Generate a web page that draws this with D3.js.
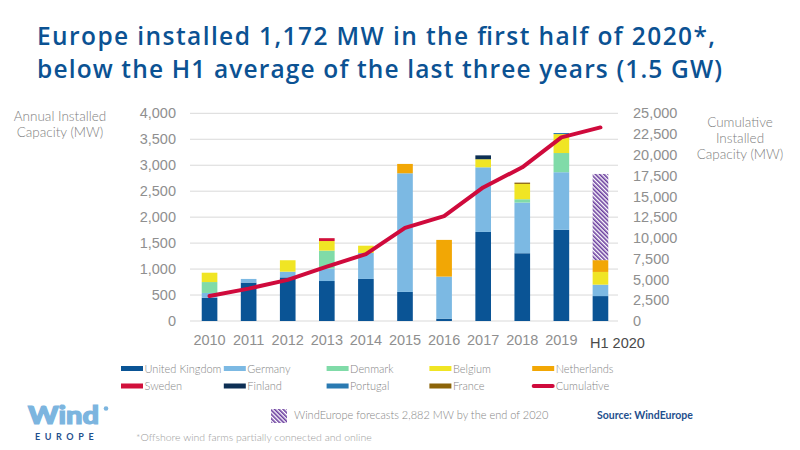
<!DOCTYPE html>
<html>
<head>
<meta charset="utf-8">
<script src="https://cdn.jsdelivr.net/npm/d3@7"></script>
<style>
  body { margin: 0; background: #fff; }
  svg { font-family: Lato, "Open Sans", sans-serif; }
</style>
</head>
<body>
<div id="canvas"></div>
<script>
// values (MW)
var years = ["2010", "2011", "2012", "2013", "2014", "2015", "2016", "2017", "2018", "2019", "H1 2020"];
var unitedKingdom = [445, 740, 840, 770, 810, 560, 45, 1715, 1305, 1755, 480];
var germany =       [95, 70, 110, 240, 500, 2285, 810, 1245, 975, 1110, 220];
var denmark =       [210, 0, 0, 345, 0, 0, 0, 0, 65, 370, 0];
var belgium =       [180, 0, 220, 185, 140, 0, 0, 155, 295, 365, 245];
var netherlands =   [0, 0, 0, 0, 0, 180, 707, 0, 0, 0, 227];
var sweden =        [0, 0, 0, 55, 0, 0, 0, 0, 0, 0, 0];
var finland =       [0, 0, 0, 0, 0, 0, 0, 75, 0, 0, 0];
var portugal =      [0, 0, 0, 0, 0, 0, 0, 0, 0, 20, 0];
var france =        [0, 0, 0, 0, 0, 0, 0, 0, 25, 0, 0];
var forecast =      [0, 0, 0, 0, 0, 0, 0, 0, 0, 0, 1660];
var cumulative =    [3000, 3900, 4950, 6550, 8050, 11200, 12630, 16080, 18500, 22100, 23300];
var leftTicks = [0, 500, 1000, 1500, 2000, 2500, 3000, 3500, 4000];
var rightTicks = [0, 2500, 5000, 7500, 10000, 12500, 15000, 17500, 20000, 22500, 25000];

var series = [
  {name: "United Kingdom", values: unitedKingdom, color: "#0a5495"},
  {name: "Germany", values: germany, color: "#7cb9e3"},
  {name: "Denmark", values: denmark, color: "#80dba8"},
  {name: "Belgium", values: belgium, color: "#f0e524"},
  {name: "Netherlands", values: netherlands, color: "#f2a705"},
  {name: "Sweden", values: sweden, color: "#d1103b"},
  {name: "Finland", values: finland, color: "#0d2f54"},
  {name: "Portugal", values: portugal, color: "#2a7ab2"},
  {name: "France", values: france, color: "#8c6409"},
  {name: "Forecast", values: forecast, color: "url(#hatch)"}
];

var W = 800, H = 450;
var svg = d3.select("#canvas").append("svg")
    .attr("width", W)
    .attr("height", H);

var defs = svg.append("defs");
var pat = defs.append("pattern")
    .attr("id", "hatch")
    .attr("patternUnits", "userSpaceOnUse")
    .attr("width", 3).attr("height", 3)
    .attr("patternTransform", "rotate(-45)");
pat.append("rect").attr("width", 3).attr("height", 3).attr("fill", "#fff");
pat.append("rect").attr("width", 1.6).attr("height", 3).attr("fill", "#6b3d9e");

// title
var title = svg.append("g").attr("fill", "#0b5293")
    .style("font-family", "'Open Sans', sans-serif")
    .style("font-weight", 600).style("font-size", "24.5px");
title.append("text").attr("x", 37).attr("y", 45)
    .attr("textLength", 678).attr("lengthAdjust", "spacing")
    .text("Europe installed 1,172 MW in the first half of 2020*,");
title.append("text").attr("x", 37).attr("y", 78)
    .attr("textLength", 685).attr("lengthAdjust", "spacing")
    .text("below the H1 average of the last three years (1.5 GW)");

// scales
var x = d3.scaleBand().domain(years).range([190, 620]).paddingInner(0.6).paddingOuter(0.3);
var y = d3.scaleLinear().domain([0, 4000]).range([321, 113.3]);
var y2 = d3.scaleLinear().domain([0, 25000]).range([321, 113.3]);

// gridlines
svg.append("g").selectAll("line")
    .data(leftTicks)
  .enter().append("line")
    .attr("x1", 190).attr("x2", 618)
    .attr("y1", function(d) { return y(d); })
    .attr("y2", function(d) { return y(d); })
    .attr("stroke", "#d9d9d9").attr("stroke-width", 1);

// stacked bars
var rows = years.map(function(yr, i) {
  var r = {year: yr};
  series.forEach(function(s) { r[s.name] = s.values[i]; });
  return r;
});
var stacked = d3.stack().keys(series.map(function(s) { return s.name; }))(rows);

svg.append("g").selectAll("g")
    .data(stacked)
  .enter().append("g")
    .attr("fill", function(d, i) { return series[i].color; })
  .selectAll("rect")
    .data(function(d) { return d; })
  .enter().append("rect")
    .attr("x", function(d) { return x(d.data.year); })
    .attr("width", x.bandwidth())
    .attr("y", function(d) { return y(d[1]); })
    .attr("height", function(d) { return y(d[0]) - y(d[1]); });

// cumulative line
var line = d3.line()
    .x(function(d, i) { return x(years[i]) + x.bandwidth() / 2; })
    .y(function(d) { return y2(d); });
svg.append("path")
    .datum(cumulative)
    .attr("d", line)
    .attr("fill", "none")
    .attr("stroke", "#cf0a3c")
    .attr("stroke-width", 4)
    .attr("stroke-linecap", "round")
    .attr("stroke-linejoin", "round");

// axes
var axisStyle = function(g) {
  g.select(".domain").remove();
  g.selectAll("line").remove();
  g.selectAll("text").attr("fill", "#8f8f8f")
      .style("font-size", "14.5px").style("font-weight", 300);
};
svg.append("g")
    .attr("transform", "translate(176,0)")
    .call(d3.axisLeft(y).tickValues(leftTicks).tickSize(0).tickPadding(0).tickFormat(d3.format(",")))
    .call(axisStyle);
svg.append("g")
    .attr("transform", "translate(633,0)")
    .call(d3.axisRight(y2).tickValues(rightTicks).tickSize(0).tickPadding(0).tickFormat(d3.format(",")))
    .call(axisStyle);
var xAxis = svg.append("g")
    .attr("transform", "translate(0,321)")
    .call(d3.axisBottom(x).tickSize(0).tickPadding(14))
    .call(axisStyle);
xAxis.selectAll("text")
    .filter(function(d) { return d === "H1 2020"; })
    .attr("fill", "#4a4a4a").style("font-weight", 400)
    .attr("x", 17).attr("y", 17);

// axis titles
var axTitle = svg.append("g").attr("fill", "#808080").style("font-size", "13.5px")
    .style("font-weight", 300).attr("text-anchor", "middle");
axTitle.append("text").attr("x", 60).attr("y", 121).text("Annual Installed");
axTitle.append("text").attr("x", 60).attr("y", 137).text("Capacity (MW)");
axTitle.append("text").attr("x", 740).attr("y", 127).text("Cumulative");
axTitle.append("text").attr("x", 740).attr("y", 143).text("Installed");
axTitle.append("text").attr("x", 740).attr("y", 159).text("Capacity (MW)");

// legend
var legendItems = series.slice(0, 9).map(function(s) { return {name: s.name, color: s.color}; });
legendItems.push({name: "Cumulative", color: "#cf0a3c", line: true});
var legend = svg.append("g").selectAll("g")
    .data(legendItems)
  .enter().append("g")
    .attr("transform", function(d, i) {
      return "translate(" + (121 + (i % 5) * 102.8) + "," + (368.5 + Math.floor(i / 5) * 17.5) + ")";
    });
legend.each(function(d) {
  var g = d3.select(this);
  if (d.line) {
    g.append("line").attr("x1", 1.5).attr("x2", 20.5).attr("y1", 0).attr("y2", 0)
        .attr("stroke", d.color).attr("stroke-width", 4).attr("stroke-linecap", "round");
  } else {
    g.append("rect").attr("x", 0).attr("y", -2.5).attr("width", 22).attr("height", 5)
        .attr("fill", d.color);
  }
});
legend.append("text")
    .attr("x", 23.5).attr("y", 4)
    .attr("fill", "#858585")
    .style("font-size", "11px").style("font-weight", 300)
    .text(function(d) { return d.name; });

// forecast note
svg.append("rect").attr("x", 271).attr("y", 409).attr("width", 16).attr("height", 14)
    .attr("fill", "url(#hatch)");
svg.append("text").attr("x", 294).attr("y", 419)
    .attr("fill", "#858585").style("font-size", "11px").style("font-weight", 300)
    .text("WindEurope forecasts 2,882 MW by the end of 2020");
svg.append("text").attr("x", 597).attr("y", 419)
    .attr("fill", "#1f4f8d").style("font-size", "10.5px").style("font-weight", 700)
    .text("Source: WindEurope");
svg.append("text").attr("x", 136).attr("y", 441)
    .attr("fill", "#9a9a9a").style("font-size", "10.5px").style("font-weight", 300)
    .text("*Offshore wind farms partially connected and online");

// logo
svg.append("text").attr("x", 28).attr("y", 424)
    .attr("fill", "#7cb5df").attr("stroke", "#7cb5df").attr("stroke-width", 1.2)
    .style("font-size", "24px").style("font-weight", 900)
    .attr("textLength", 71).attr("lengthAdjust", "spacingAndGlyphs")
    .text("Wind");
svg.append("circle").attr("cx", 106).attr("cy", 408.5).attr("r", 2.3).attr("fill", "#7cb5df");
svg.append("text").attr("x", 35).attr("y", 440)
    .attr("fill", "#1f4f8d").style("font-size", "9px").style("font-weight", 700)
    .style("letter-spacing", "4.6px")
    .text("EUROPE");
</script>
</body>
</html>
